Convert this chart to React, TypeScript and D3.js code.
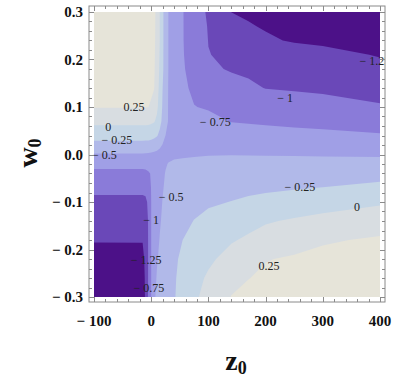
import React from 'react';
import * as d3 from 'd3';

// grid nodes (z0 across, w0 from top row to bottom row)
const zNodes = [-100, -15, -10, -5, 0, 5, 10, 15, 20, 25, 30, 40, 55, 75, 100, 140, 170, 200, 250, 300, 400];
const wNodes = [0.3, 0.27, 0.24, 0.21, 0.18, 0.14, 0.1, 0.07, 0.04, 0.02, 0, -0.02, -0.04, -0.07, -0.1, -0.14, -0.18, -0.22, -0.26, -0.3];

// estimated field values, one row per w0 node
const fRows = [
  [0.45, 0.45, 0.45, 0.44, 0.40, 0.31, 0.18, 0, -0.208, -0.361, -0.5, -0.596, -0.74, -0.875, -1.034, -1.252, -1.28, -1.309, -1.357, -1.405, -1.5],
  [0.425, 0.425, 0.425, 0.415, 0.38, 0.305, 0.173, 0, -0.208, -0.361, -0.5, -0.596, -0.74, -0.869, -1.013, -1.139, -1.234, -1.268, -1.305, -1.342, -1.415],
  [0.40, 0.40, 0.40, 0.39, 0.36, 0.30, 0.167, 0, -0.208, -0.361, -0.5, -0.596, -0.74, -0.863, -1.004, -1.083, -1.142, -1.22, -1.27, -1.29, -1.33],
  [0.375, 0.375, 0.375, 0.368, 0.345, 0.29, 0.155, -0.018, -0.211, -0.361, -0.5, -0.594, -0.736, -0.854, -0.995, -1.036, -1.064, -1.092, -1.139, -1.185, -1.265],
  [0.35, 0.35, 0.35, 0.345, 0.33, 0.28, 0.143, -0.036, -0.214, -0.361, -0.5, -0.593, -0.731, -0.82, -0.96, -1.02, -1.04, -1.06, -1.09, -1.125, -1.19],
  [0.31, 0.31, 0.31, 0.305, 0.29, 0.26, 0.107, -0.071, -0.25, -0.389, -0.508, -0.592, -0.717, -0.782, -0.831, -0.911, -0.96, -1.006, -1.025, -1.043, -1.08],
  [0.26, 0.26, 0.258, 0.252, 0.22, 0.15, 0.05, -0.107, -0.278, -0.417, -0.51, -0.5625, -0.64, -0.745, -0.767, -0.795, -0.816, -0.838, -0.873, -0.909, -0.98],
  [0.06, 0.06, 0.06, 0.055, 0.04, 0.02, -0.05, -0.175, -0.306, -0.444, -0.508, -0.535, -0.575, -0.629, -0.696, -0.757, -0.768, -0.779, -0.797, -0.814, -0.85],
  [-0.156, -0.156, -0.157, -0.16, -0.17, -0.195, -0.23, -0.308, -0.404, -0.5, -0.53, -0.57, -0.6, -0.62, -0.635, -0.653, -0.664, -0.675, -0.688, -0.70, -0.73],
  [-0.33, -0.33, -0.332, -0.335, -0.345, -0.37, -0.41, -0.46, -0.51, -0.545, -0.56, -0.57, -0.575, -0.578, -0.579, -0.58, -0.585, -0.59, -0.60, -0.61, -0.625],
  [-0.52, -0.52, -0.525, -0.53, -0.54, -0.55, -0.56, -0.565, -0.565, -0.56, -0.55, -0.535, -0.525, -0.515, -0.508, -0.505, -0.506, -0.508, -0.511, -0.515, -0.525],
  [-0.685, -0.685, -0.68, -0.675, -0.66, -0.64, -0.61, -0.58, -0.55, -0.52, -0.49, -0.47, -0.46, -0.455, -0.452, -0.45, -0.447, -0.445, -0.442, -0.44, -0.43],
  [-0.81, -0.81, -0.80, -0.775, -0.735, -0.68, -0.62, -0.58, -0.54, -0.49, -0.465, -0.44, -0.425, -0.415, -0.405, -0.398, -0.392, -0.385, -0.375, -0.365, -0.335],
  [-0.95, -0.95, -0.94, -0.88, -0.74, -0.66, -0.6, -0.55, -0.51, -0.48, -0.45, -0.425, -0.40, -0.375, -0.35, -0.32, -0.305, -0.29, -0.268, -0.245, -0.19],
  [-1.05, -1.05, -1.04, -0.97, -0.75, -0.64, -0.58, -0.53, -0.495, -0.46, -0.43, -0.39, -0.35, -0.31, -0.28, -0.245, -0.21, -0.18, -0.14, -0.10, -0.03],
  [-1.16, -1.16, -1.15, -0.98, -0.75, -0.64, -0.58, -0.52, -0.47, -0.43, -0.395, -0.35, -0.30, -0.245, -0.19, -0.12, -0.07, -0.02, 0.025, 0.07, 0.135],
  [-1.24, -1.24, -1.2, -0.98, -0.75, -0.62, -0.555, -0.49, -0.44, -0.40, -0.37, -0.31, -0.25, -0.18, -0.11, -0.02, 0.035, 0.09, 0.16, 0.225, 0.28],
  [-1.32, -1.31, -1.2, -0.98, -0.75, -0.61, -0.52, -0.455, -0.40, -0.36, -0.33, -0.285, -0.21, -0.13, -0.04, 0.08, 0.16, 0.24, 0.275, 0.31, 0.36],
  [-1.40, -1.39, -1.2, -0.98, -0.75, -0.59, -0.48, -0.43, -0.385, -0.35, -0.32, -0.27, -0.19, -0.07, 0.03, 0.2, 0.245, 0.29, 0.335, 0.38, 0.43],
  [-1.47, -1.46, -1.2, -0.97, -0.745, -0.54, -0.45, -0.41, -0.375, -0.34, -0.315, -0.265, -0.17, -0.04, 0.08, 0.255, 0.31, 0.36, 0.40, 0.44, 0.5],
];

const levels = [-1.25, -1, -0.75, -0.5, -0.25, 0, 0.25];
// lowest band first
const bandColors = ['#4c1188', '#6a48b8', '#8a7bd9', '#a09fe6', '#b1b9e9', '#c5d6e6', '#d8dde1', '#e6e4d9'];

const zTicks = [-100, 0, 100, 200, 300, 400];
const wTicks = [-0.3, -0.2, -0.1, 0, 0.1, 0.2, 0.3];

// contour labels: value and where it sits (z0, w0)
const labelValues = [0.25, 0, -0.25, -0.5, -0.75, -1, -1.25, -0.5, -1, -1.25, -0.75, -0.25, 0, 0.25];
const labelZ = [-30, -75, -60, -82, 112, 234, 391, 35, 0, -9, -4, 260, 360, 206];
const labelW = [0.1, 0.058, 0.03, -0.001, 0.068, 0.119, 0.197, -0.089, -0.138, -0.222, -0.281, -0.068, -0.11, -0.235];

const fmtSigned = (v: number, s: string) => (v < 0 ? '\u2212 ' + s : s);

export default function App() {
  const width = 395, height = 380;
  const plot = { left: 94, right: 380, top: 12, bottom: 297 };
  const frame = { left: 89, right: 385, top: 6, bottom: 302 };

  const x = d3.scaleLinear().domain([-100, 400]).range([plot.left, plot.right]);
  const y = d3.scaleLinear().domain([-0.3, 0.3]).range([plot.bottom, plot.top]);

  const nz = zNodes.length, nw = wNodes.length;
  const zAt = d3.scaleLinear().domain(d3.range(nz)).range(zNodes).clamp(true);
  const wAt = d3.scaleLinear().domain(d3.range(nw)).range(wNodes).clamp(true);

  const values = fRows.flat();
  const bands = d3.contours().size([nz, nw]).thresholds(levels)(values);
  const path = d3.geoPath(
    d3.geoTransform({
      point(px: number, py: number) {
        (this as any).stream.point(x(zAt(px - 0.5)), y(wAt(py - 0.5)));
      },
    })
  );

  const zMinor = d3.range(-100, 401, 20);
  const wMinor = d3.range(-15, 16).map((i) => i * 0.02);
  const isMajorZ = (v: number) => Math.abs(v % 100) < 1e-6;
  const isMajorW = (v: number) => Math.abs(Math.round(v * 10) - v * 10) < 1e-6;

  const tickColor = '#8a8a8a';
  const serif = "'Liberation Serif', 'Times New Roman', serif";

  return (
    <svg width={width} height={height} style={{ position: 'absolute', left: 0, top: 0 }} fontFamily={serif}>
      <defs>
        <clipPath id="frameClip">
          <rect x={frame.left} y={frame.top} width={frame.right - frame.left} height={frame.bottom - frame.top} />
        </clipPath>
      </defs>
      <rect width={width} height={height} fill="#fff" />

      <rect x={plot.left} y={plot.top} width={plot.right - plot.left} height={plot.bottom - plot.top} fill={bandColors[0]} />
      {bands.map((b, i) => (
        <path key={i} d={path(b as any) || ''} fill={bandColors[i + 1]} fillRule="evenodd" />
      ))}

      <g clipPath="url(#frameClip)" fontSize={12} fill="#222" textAnchor="middle">
        {labelValues.map((v, i) => (
          <text key={i} x={x(labelZ[i])} y={y(labelW[i]) + 4}>
            {fmtSigned(v, String(Math.abs(v)))}
          </text>
        ))}
      </g>

      <rect x={frame.left} y={frame.top} width={frame.right - frame.left} height={frame.bottom - frame.top}
        fill="none" stroke={tickColor} strokeWidth={1} />

      <g stroke={tickColor} strokeWidth={1}>
        {zMinor.map((v) => {
          const len = isMajorZ(v) ? 5 : 3;
          const px = Math.round(x(v)) + 0.5;
          return (
            <g key={'z' + v}>
              <line x1={px} x2={px} y1={frame.bottom} y2={frame.bottom - len} />
              <line x1={px} x2={px} y1={frame.top} y2={frame.top + len} />
            </g>
          );
        })}
        {wMinor.map((v) => {
          const len = isMajorW(v) ? 5 : 3;
          const py = Math.round(y(v)) + 0.5;
          return (
            <g key={'w' + v}>
              <line x1={frame.left} x2={frame.left + len} y1={py} y2={py} />
              <line x1={frame.right} x2={frame.right - len} y1={py} y2={py} />
            </g>
          );
        })}
      </g>

      <g fontSize={15} fontWeight="bold" fill="#111">
        {zTicks.map((v) => (
          <text key={v} x={x(v)} y={326} textAnchor="middle">
            {fmtSigned(v, String(Math.abs(v)))}
          </text>
        ))}
        {wTicks.map((v) => (
          <text key={v} x={83} y={y(v) + 5} textAnchor="end">
            {fmtSigned(v, Math.abs(v).toFixed(1))}
          </text>
        ))}
      </g>

      <text x={236} y={370} textAnchor="middle" fontWeight="bold" fontSize={28} fill="#111">
        z<tspan fontSize={18} dy={4}>0</tspan>
      </text>
      <text transform="translate(37,153) rotate(-90)" textAnchor="middle" fontWeight="bold" fontSize={28} fill="#111">
        w<tspan fontSize={18} dy={4}>0</tspan>
      </text>
    </svg>
  );
}
